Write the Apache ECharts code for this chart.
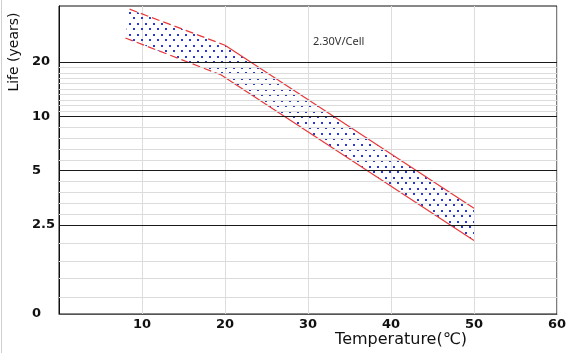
<!DOCTYPE html>
<html>
<head>
<meta charset="utf-8">
<script src="https://cdn.jsdelivr.net/npm/echarts@6/dist/echarts.min.js"></script>
<style>
  html, body { margin: 0; padding: 0; background: #fff; }
  #chart { position: absolute; left: 0; top: 0; width: 569px; height: 353px; }
  #edge { position: absolute; left: 1px; top: 0; width: 1px; height: 353px; background: #cfcfcf; }
</style>
</head>
<body>
<div id="chart"></div>
<div id="edge"></div>
<script>
// band boundaries (temperature in °C, life in years)
const upperTemp = [8.5, 20, 50];
const upperLife = [39.3, 24.8, 3.1];
const lowerTemp = [8, 19.5, 50];
const lowerLife = [27.2, 17, 2.05];

// y axis labels and gridlines
const yMin = 0.803;
const yMax = 40.9;
const yLabelValues = [yMin, 2.5, 5, 10, 20];
const yLabelTexts = ['0', '2.5', '5', '10', '20'];
const majorLines = [2.5, 5, 10, 20];
const minorLines = [
  1.0, 1.26, 1.58, 1.99,
  2.87, 3.3, 3.79, 4.35,
  5.74, 6.6, 7.58, 8.71,
  10.7, 11.5, 12.3, 13.2, 14.1, 15.2, 16.2, 17.4, 18.7
];

// dotted fill pattern
function dotPattern() {
  const c = document.createElement('canvas');
  c.width = 8; c.height = 11;
  const ctx = c.getContext('2d');
  ctx.clearRect(0, 0, 8, 11);
  ctx.fillStyle = '#2a3ad0';
  ctx.fillRect(1, 1, 2, 2);
  ctx.fillRect(5, 6, 2, 2);
  return c;
}
const pattern = { image: dotPattern(), repeat: 'repeat' };

const chart = echarts.init(document.getElementById('chart'));

const gridLineData = minorLines.map(v => ({ yAxis: v, lineStyle: { color: '#dcdcdc', width: 1, type: 'solid' } }))
  .concat(majorLines.map(v => ({ yAxis: v, lineStyle: { color: '#1a1a1a', width: 1, type: 'solid' } })));

chart.setOption({
  animation: false,
  backgroundColor: '#fff',
  grid: { left: 59, top: 6, right: 11, bottom: 39, show: true, borderColor: '#111', borderWidth: 1 },
  xAxis: {
    type: 'value',
    min: 0, max: 60, interval: 10,
    axisLine: { lineStyle: { color: '#555', width: 1 } },
    axisTick: { show: false },
    splitLine: { lineStyle: { color: '#dddddd' } },
    axisLabel: {
      color: '#111', fontWeight: 'bold', fontSize: 13, fontFamily: 'DejaVu Sans', margin: 4,
      showMaxLabel: true,
      formatter: v => (v === 0 ? '' : String(v))
    }
  },
  yAxis: {
    type: 'log',
    min: yMin, max: yMax,
    axisLine: { show: true, lineStyle: { color: '#111', width: 1 } },
    axisTick: { show: false },
    splitLine: { show: false },
    minorSplitLine: { show: false },
    axisLabel: {
      customValues: yLabelValues,
      color: '#111', fontWeight: 'bold', fontSize: 13, fontFamily: 'DejaVu Sans',
      align: 'left', margin: 27,
      formatter: v => {
        let best = 0;
        yLabelValues.forEach((lv, i) => {
          if (Math.abs(Math.log(lv) - Math.log(v)) < Math.abs(Math.log(yLabelValues[best]) - Math.log(v))) best = i;
        });
        return yLabelTexts[best];
      }
    }
  },
  graphic: [
    {
      type: 'text', x: 14, y: 52, rotation: Math.PI / 2,
      style: { text: 'Life (years)', fontSize: 14, fontFamily: 'DejaVu Sans', fill: '#111', align: 'center', verticalAlign: 'middle' }
    },
    {
      type: 'text', x: 401, y: 340,
      style: { text: 'Temperature(℃)', fontSize: 16, fontFamily: 'DejaVu Sans', fill: '#111', align: 'center', verticalAlign: 'middle' }
    },
    {
      type: 'text', x: 313, y: 42,
      style: { text: '2.30V/Cell', fontSize: 11, fontFamily: 'Noto Sans', fill: '#333', align: 'left', verticalAlign: 'middle' }
    }
  ],
  series: [
    {
      // horizontal gridlines
      type: 'line',
      data: [],
      silent: true,
      markLine: {
        silent: true,
        symbol: ['none', 'none'],
        label: { show: false },
        animation: false,
        data: gridLineData
      }
    },
    {
      // dotted band
      type: 'custom',
      data: [0],
      silent: true,
      renderItem: (params, api) => {
        const pts = [];
        upperTemp.forEach((t, i) => pts.push(api.coord([t, upperLife[i]])));
        for (let i = lowerTemp.length - 1; i >= 0; i--) pts.push(api.coord([lowerTemp[i], lowerLife[i]]));
        return { type: 'polygon', shape: { points: pts }, style: { fill: pattern, stroke: null } };
      }
    },
    {
      type: 'line', symbol: 'none', silent: true,
      data: upperTemp.slice(0, 2).map((t, i) => [t, upperLife[i]]),
      lineStyle: { color: '#e8383a', width: 1.2, type: [8, 4] }
    },
    {
      type: 'line', symbol: 'none', silent: true,
      data: upperTemp.slice(1).map((t, i) => [t, upperLife[i + 1]]),
      lineStyle: { color: '#e8383a', width: 1.2 }
    },
    {
      type: 'line', symbol: 'none', silent: true,
      data: lowerTemp.slice(0, 2).map((t, i) => [t, lowerLife[i]]),
      lineStyle: { color: '#e8383a', width: 1.2, type: [8, 4] }
    },
    {
      type: 'line', symbol: 'none', silent: true,
      data: lowerTemp.slice(1).map((t, i) => [t, lowerLife[i + 1]]),
      lineStyle: { color: '#e8383a', width: 1.2 }
    }
  ]
});
</script>
</body>
</html>
